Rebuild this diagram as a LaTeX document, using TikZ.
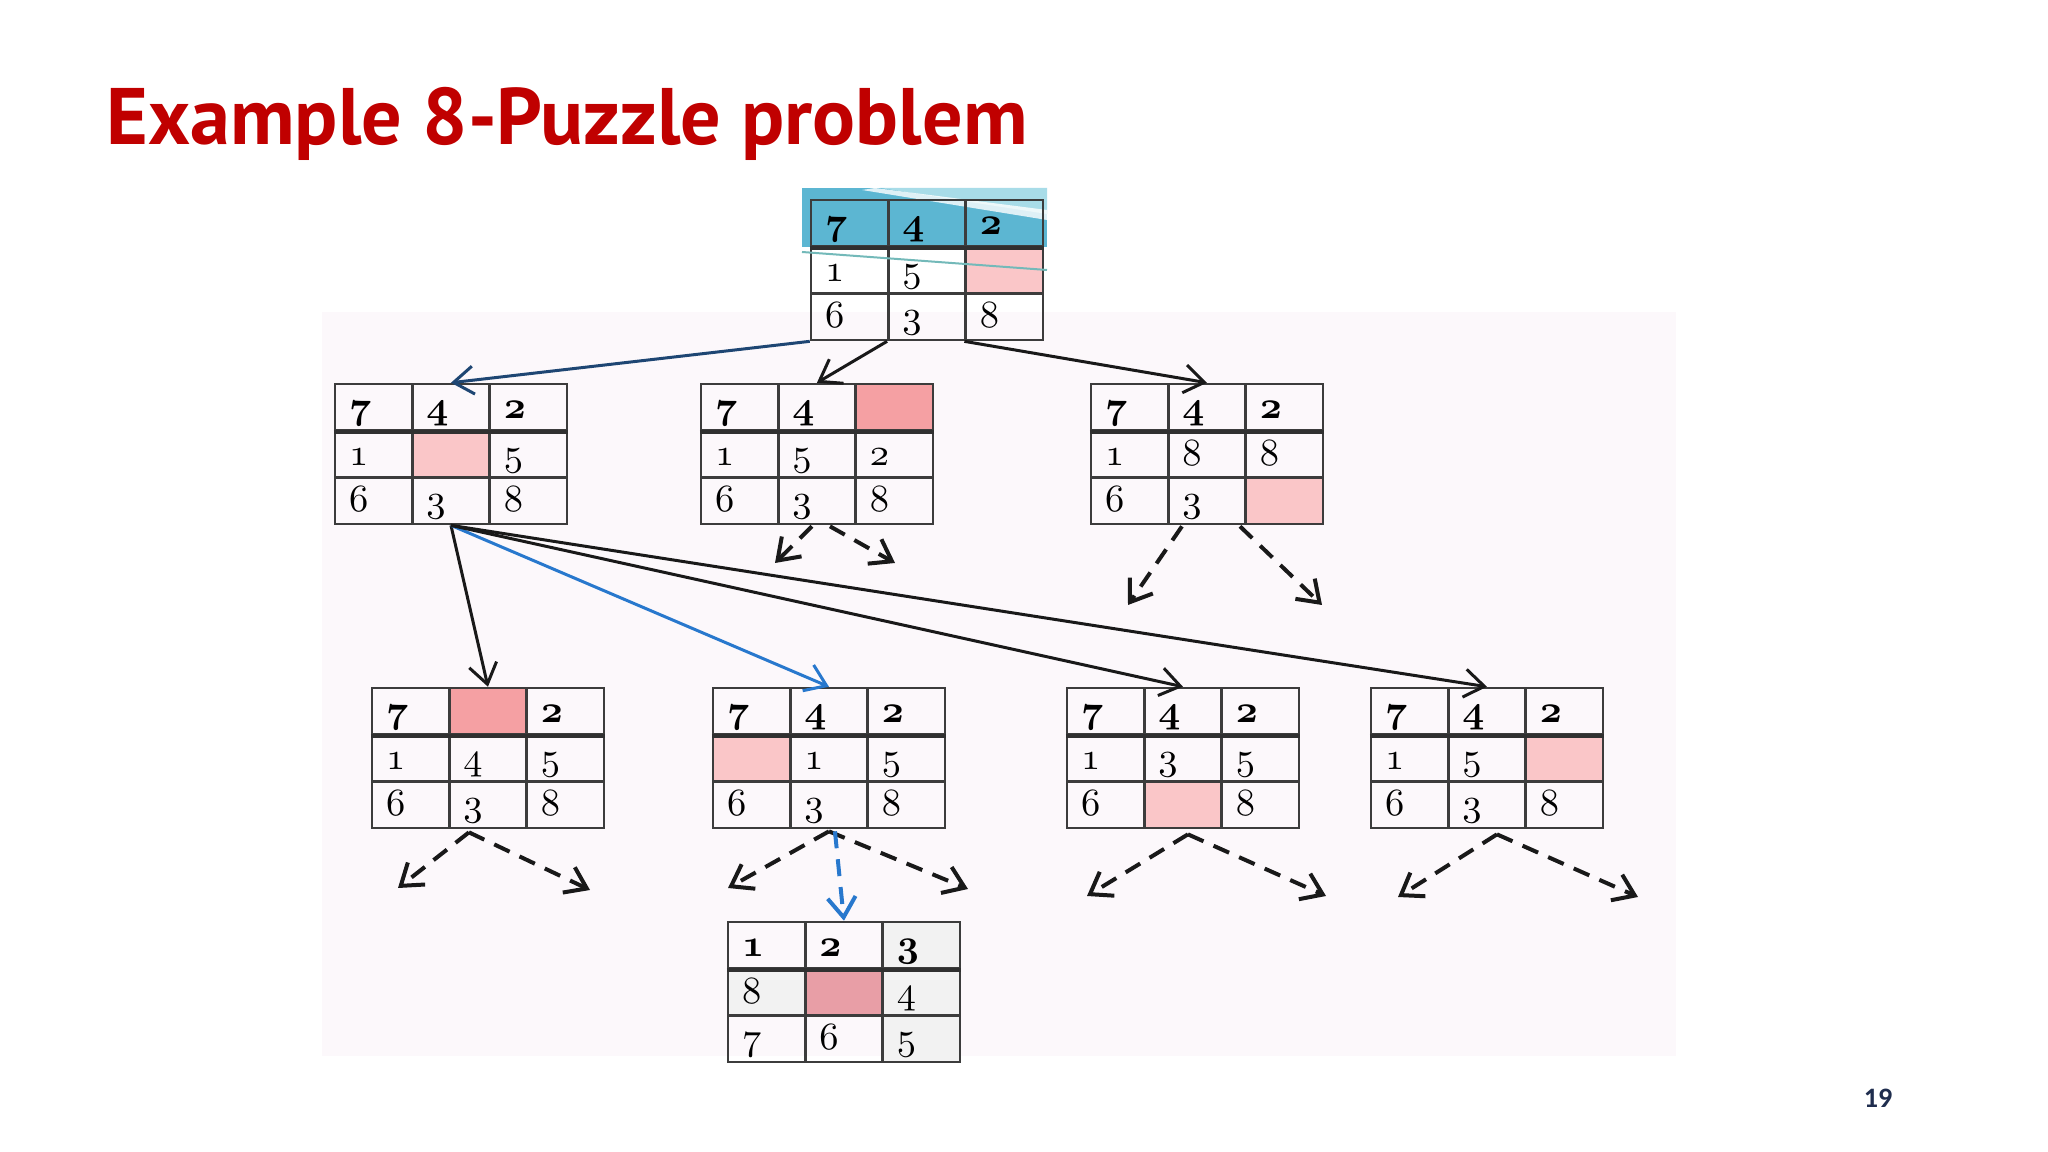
\documentclass[tikz,border=0pt]{standalone}
\usepackage{fontspec}
\usetikzlibrary{arrows.meta}
\newfontfamily\titlefont{PT Sans}
\newfontfamily\pagefont{Carlito}
\definecolor{titlered}{RGB}{192,0,0}
\definecolor{pagenavy}{RGB}{31,45,78}
\definecolor{sheet}{RGB}{252,248,251}
\definecolor{gridgray}{RGB}{60,60,60}
\definecolor{blanklight}{RGB}{250,198,200}
\definecolor{blankdeep}{RGB}{245,160,163}
\definecolor{blankgoal}{RGB}{232,158,166}
\definecolor{bandblue}{RGB}{92,182,210}
\definecolor{bandlight}{RGB}{168,220,232}
\definecolor{navyarrow}{RGB}{30,70,115}
\definecolor{bluearrow}{RGB}{40,120,205}

% one 3x3 board: name, left, top, entries, blank index, blank colour
\newcommand{\puzzlegrid}[6]{%
  \foreach \val [count=\k from 0] in {#4} {
    \pgfmathtruncatemacro{\row}{div(\k,3)+1}
    \pgfmathtruncatemacro{\col}{mod(\k,3)+1}
    \ifnum\k=#5 \def\cellfill{#6}\else\def\cellfill{none}\fi
    \node[cell, fill=\cellfill] (#1-\row-\col) at ({#2+(\col-0.5)*77.3},{#3+(\row-0.5)*46.7})
      {\ifnum\row=1 \usefont{OML}{cmm}{b}{it}\fi\val};
  }
  \draw[rowline] (#1-1-1.south west) -- (#1-1-3.south east);
}

\begin{document}
\begin{tikzpicture}[x=0.1mm, y=-0.1mm,
  cell/.style={draw=gridgray, line width=0.25mm, minimum width=7.73mm, minimum height=4.67mm,
    inner xsep=1.4mm, inner ysep=0pt, text width=4.9mm, align=left,
    text height=3.45mm, text depth=1.22mm, font=\fontsize{10.5}{10}\usefont{OML}{cmm}{m}{it}},
  rowline/.style={draw=gridgray!80!black, line width=0.4mm},
  tree/.style={-{Straight Barb[length=2mm,width=2.8mm]}, line width=0.3mm, draw=black!90},
  leaf/.style={tree, line width=0.4mm, dash pattern=on 1.7mm off 1.1mm}]
\useasboundingbox (0,0) rectangle (2048,1152);
\fill[white] (0,0) rectangle (2048,1152);
\fill[sheet] (322,312) rectangle (1676,1056);

\node[anchor=base west, inner sep=0pt, text=titlered, font=\titlefont\bfseries\fontsize{22.8}{26}\selectfont]
  (title) at (106,145) {Example 8-Puzzle problem};
\node[text=pagenavy, font=\pagefont\bfseries\fontsize{8}{9}\selectfont] (pagenum) at (1878,1098) {19};

% highlight band over the start board
\fill[bandblue] (802,188) rectangle (1047,247);
\fill[bandlight] (880,188) -- (1047,188) -- (1047,214) -- cycle;
\fill[white, opacity=0.8] (875,188) -- (1047,210) -- (1047,220) -- (862,190) -- cycle;
% gray cells of the goal board
\fill[gray!10] (728,969) rectangle (805,1015);
\fill[gray!10] (883,922) rectangle (960,1062);

% boards
\puzzlegrid{root}{811}{200}{7,4,2,1,5,,6,3,8}{5}{blanklight}
\draw[teal!55, line width=0.2mm] (802,252) -- (1047,270);
\puzzlegrid{lefta}{335}{384}{7,4,2,1,,5,6,3,8}{4}{blanklight}
\puzzlegrid{midb}{701}{384}{7,4,,1,5,2,6,3,8}{2}{blankdeep}
\puzzlegrid{rightc}{1091}{384}{7,4,2,1,8,8,6,3,}{8}{blanklight}
\puzzlegrid{upa}{372}{688}{7,,2,1,4,5,6,3,8}{1}{blankdeep}
\puzzlegrid{leftb}{713}{688}{7,4,2,,1,5,6,3,8}{3}{blanklight}
\puzzlegrid{downc}{1067}{688}{7,4,2,1,3,5,6,,8}{7}{blanklight}
\puzzlegrid{rightd}{1371}{688}{7,4,2,1,5,,6,3,8}{5}{blanklight}
\puzzlegrid{goal}{728}{922}{1,2,3,8,,4,7,6,5}{4}{blankgoal}

% ends of the unexpanded branches
\coordinate (midb-l) at (775,563);
\coordinate (midb-r) at (895,563);
\coordinate (rightc-l) at (1128,605);
\coordinate (rightc-r) at (1322,605);
\coordinate (upa-l) at (398,888);
\coordinate (upa-r) at (590,890);
\coordinate (leftb-l) at (728,888);
\coordinate (leftb-r) at (968,889);
\coordinate (downc-l) at (1087,896);
\coordinate (downc-r) at (1326,896);
\coordinate (rightd-l) at (1398,897);
\coordinate (rightd-r) at (1638,897);

% first level
\draw[tree, draw=navyarrow] (root-3-1.south west) -- (lefta-1-2.north);
\draw[tree] (root-3-2.south west) -- (midb-1-2.north);
\draw[tree] (root-3-3.south west) -- (rightc-1-2.north);
% second level
\draw[tree] (lefta-3-2.south) -- (upa-1-2.north);
\draw[tree, draw=bluearrow] (lefta-3-2.south) -- (leftb-1-2.north);
\draw[tree] (lefta-3-2.south) -- (downc-1-2.north);
\draw[tree] (lefta-3-2.south) -- (rightd-1-2.north);
% dashed branches
\draw[leaf] ([xshift=-0.5mm, yshift=-0.1mm]midb-3-2.south) -- (midb-l);
\draw[leaf] ([xshift=1.3mm, yshift=-0.1mm]midb-3-2.south) -- (midb-r);
\draw[leaf] ([xshift=-2.5mm, yshift=-0.1mm]rightc-3-2.south) -- (rightc-l);
\draw[leaf] ([xshift=3.3mm, yshift=-0.1mm]rightc-3-2.south) -- (rightc-r);
\draw[leaf] ([xshift=-1.9mm, yshift=-0.3mm]upa-3-2.south) -- (upa-l);
\draw[leaf] ([xshift=-1.9mm, yshift=-0.3mm]upa-3-2.south) -- (upa-r);
\draw[leaf] ([yshift=-0.2mm]leftb-3-2.south) -- (leftb-l);
\draw[leaf] ([yshift=-0.2mm]leftb-3-2.south) -- (leftb-r);
\draw[leaf, draw=bluearrow] ([xshift=0.6mm, yshift=-0.2mm]leftb-3-2.south) -- (goal-1-2.north);
\draw[leaf] ([xshift=0.5mm, yshift=-0.5mm]downc-3-2.south) -- (downc-l);
\draw[leaf] ([xshift=0.5mm, yshift=-0.5mm]downc-3-2.south) -- (downc-r);
\draw[leaf] ([xshift=1mm, yshift=-0.5mm]rightd-3-2.south) -- (rightd-l);
\draw[leaf] ([xshift=1mm, yshift=-0.5mm]rightd-3-2.south) -- (rightd-r);
\end{tikzpicture}
\end{document}
